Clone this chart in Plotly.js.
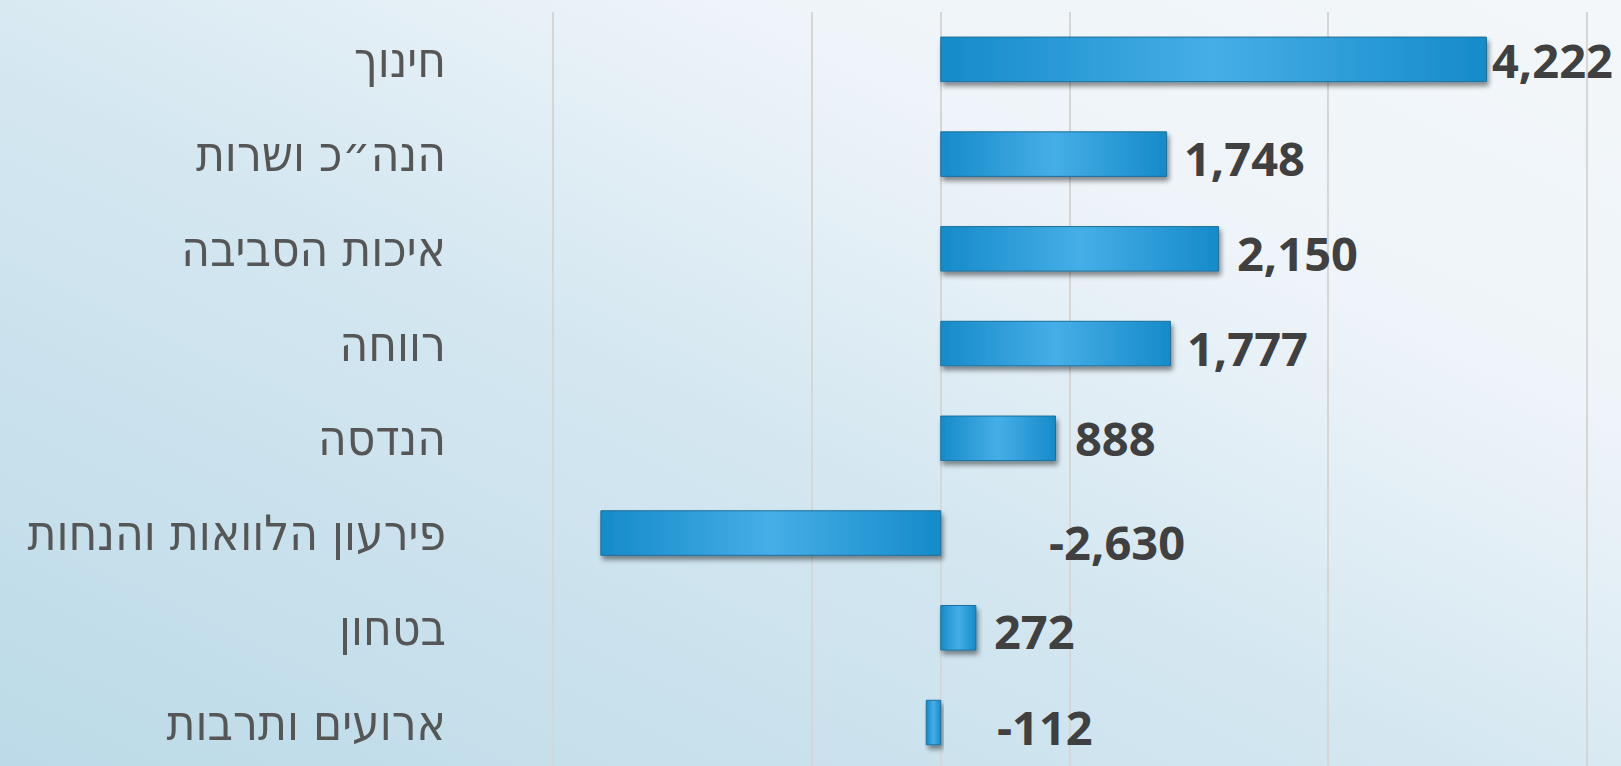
<!DOCTYPE html>
<html>
<head>
<meta charset="utf-8">
<script src="https://cdn.plot.ly/plotly-3.0.1.min.js"></script>
<style>
  html, body { margin: 0; padding: 0; width: 1621px; height: 766px; overflow: hidden; }
  body { background: linear-gradient(to top right, #BCDAE8 0%, #D4E7F1 45%, #EEF4F9 72%, #F3F7FA 100%); }
  #chart { width: 1621px; height: 766px; }
</style>
</head>
<body>
<div id="chart"></div>
<script>
// ---- data ----
const categories = ["חינוך", "הנה״כ ושרות", "איכות הסביבה", "רווחה", "הנדסה", "פירעון הלוואות והנחות", "בטחון", "ארועים ותרבות"];
const values = [4222, 1748, 2150, 1777, 888, -2630, 272, -112];
const valueLabels = ["4,222", "1,748", "2,150", "1,777", "888", "-2,630", "272", "-112"];

// ---- label placement (pixels, layout only) ----
const labelXShift = [4, 15, 16, 15, 17, 106, 16, 54];
const labelYShift = [-1, -4, -4, -4, 0, -9, -3, -4];

const trace = {
  type: "bar",
  orientation: "h",
  y: categories,
  x: values,
  marker: { color: "#2E9FDB", line: { color: "#1C6F9C", width: 1 } },
  hoverinfo: "skip"
};

const annotations = values.map((v, i) => ({
  x: Math.max(v, 0),
  y: categories[i],
  xref: "x",
  yref: "y",
  text: valueLabels[i],
  showarrow: false,
  xanchor: "left",
  yanchor: "middle",
  xshift: labelXShift[i],
  yshift: labelYShift[i],
  font: { family: "Open Sans", size: 47, color: "#404040", weight: 700 }
}));

const layout = {
  width: 1621,
  height: 766,
  margin: { l: 552, r: 33, t: 12, b: 0, pad: 0 },
  paper_bgcolor: "rgba(0,0,0,0)",
  plot_bgcolor: "rgba(0,0,0,0)",
  showlegend: false,
  bargap: 0.53,
  xaxis: {
    range: [-3008, 5008],
    tick0: -3000,
    dtick: 2000,
    showticklabels: false,
    ticks: "",
    showgrid: true,
    gridcolor: "#D6D6D6",
    gridwidth: 2,
    zeroline: true,
    zerolinecolor: "#D6D6D6",
    zerolinewidth: 2,
    showline: false
  },
  yaxis: {
    type: "category",
    categoryorder: "array",
    categoryarray: categories,
    range: [7.459, -0.5],
    showgrid: false,
    zeroline: false,
    showline: false,
    ticks: "",
    ticklabelstandoff: 105,
    tickfont: { family: "DejaVu Sans Condensed, DejaVu Sans", size: 49, color: "#565656" }
  },
  annotations: annotations
};

Plotly.newPlot("chart", [trace], layout, { displayModeBar: false, staticPlot: true }).then(() => {
  const svg = document.querySelector("#chart .main-svg");
  const ns = "http://www.w3.org/2000/svg";
  let defs = svg.querySelector("defs");
  if (!defs) { defs = document.createElementNS(ns, "defs"); svg.insertBefore(defs, svg.firstChild); }
  const grad = document.createElementNS(ns, "linearGradient");
  grad.setAttribute("id", "barGrad");
  grad.setAttribute("x1", "0"); grad.setAttribute("x2", "1");
  grad.setAttribute("y1", "0"); grad.setAttribute("y2", "0");
  [["0", "#168BC9"], ["0.5", "#45AEE7"], ["1", "#168BC9"]].forEach(([o, c]) => {
    const s = document.createElementNS(ns, "stop");
    s.setAttribute("offset", o); s.setAttribute("stop-color", c);
    grad.appendChild(s);
  });
  defs.appendChild(grad);
  const filt = document.createElementNS(ns, "filter");
  filt.setAttribute("id", "barShadow");
  filt.setAttribute("x", "-10%"); filt.setAttribute("y", "-20%");
  filt.setAttribute("width", "130%"); filt.setAttribute("height", "160%");
  const ds = document.createElementNS(ns, "feDropShadow");
  ds.setAttribute("dx", "2"); ds.setAttribute("dy", "4");
  ds.setAttribute("stdDeviation", "2.5");
  ds.setAttribute("flood-color", "#000"); ds.setAttribute("flood-opacity", "0.45");
  filt.appendChild(ds);
  defs.appendChild(filt);
  document.querySelectorAll("#chart .barlayer .point path").forEach(p => {
    p.style.fill = "url(#barGrad)";
    p.setAttribute("filter", "url(#barShadow)");
  });
});
</script>
</body>
</html>
